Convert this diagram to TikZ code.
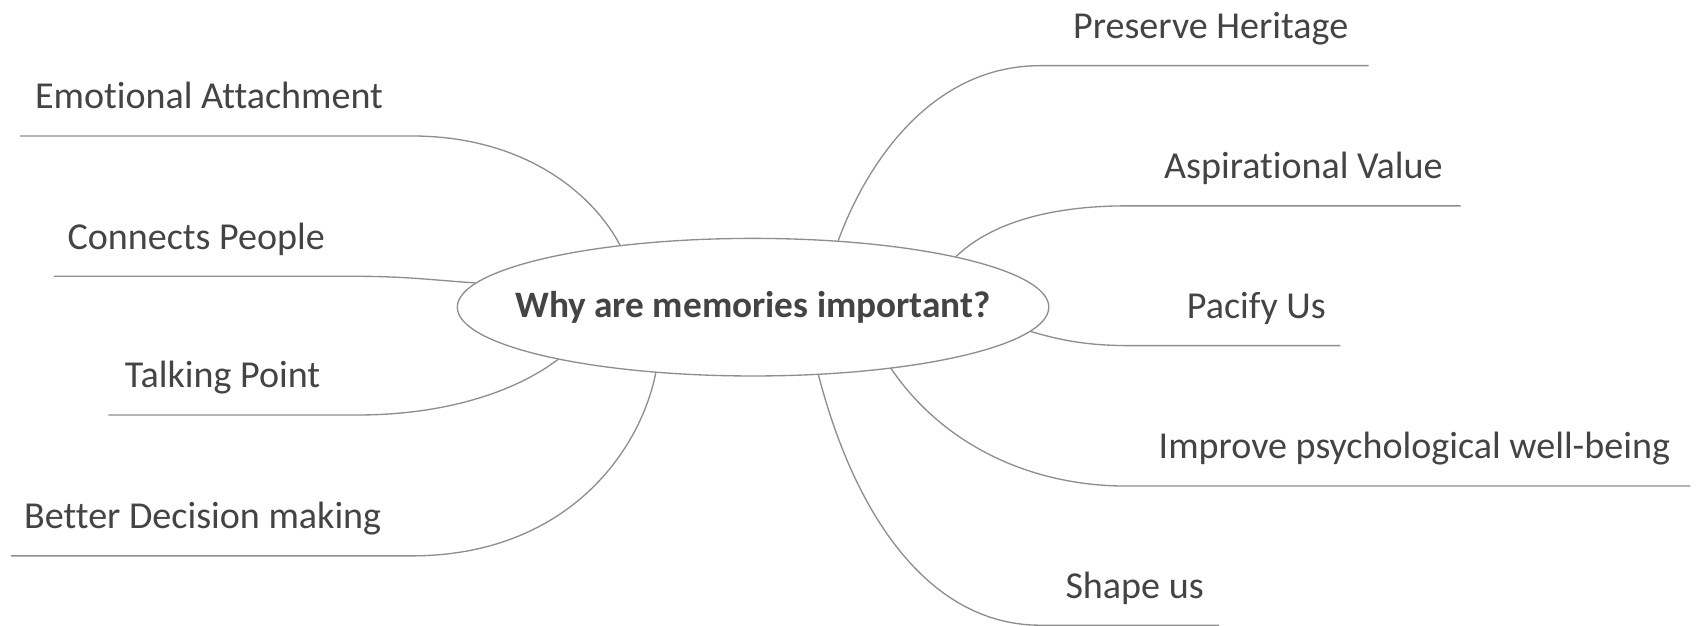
\documentclass[tikz,border=0pt]{standalone}
\usepackage{fontspec}
\setmainfont{Carlito}[Ligatures=NoCommon]
\usetikzlibrary{shapes.geometric}
\definecolor{txt}{HTML}{444444}
\definecolor{ln}{HTML}{8E8E8E}
\begin{document}
\begin{tikzpicture}[x=0.02cm,y=-0.02cm,
  lbl/.style={anchor=base west,inner sep=0,text=txt,font=\fontsize{20}{21}\selectfont},
  conn/.style={draw=ln,line width=0.7pt},
  hub/.style={ellipse,draw=ln,line width=0.7pt,minimum width=10.92cm,minimum height=2.54cm,inner sep=0,text=txt,font=\bfseries\fontsize{19.6}{20}\selectfont}]
\useasboundingbox (0,0) rectangle (1568,577);
\node[hub] (c) at (695,283.5) {\makebox[0pt]{Why are memories important?}};

% left side
\node[lbl] (ea) at (32,100.5) {Emotional Attachment};
\coordinate (ea1) at (380,125.5);
\coordinate (ea0) at (18.5,125.5);
\draw[conn] (c.155) .. controls (545,175) and (480,125.5) .. (ea1) -- (ea0);

\node[lbl] (cp) at (62,230) {Connects People};
\coordinate (cp1) at (330,255);
\coordinate (cp0) at (50,255);
\draw[conn] (c.175.5) .. controls (405,259) and (375,255) .. (cp1) -- (cp0);

\node[lbl] (tp) at (115,358) {Talking Point};
\coordinate (tp1) at (330,383);
\coordinate (tp0) at (100,383);
\draw[conn] (c.195) .. controls (475,362) and (410,383) .. (tp1) -- (tp0);

\node[lbl] (bd) at (22,488) {Better Decision making};
\coordinate (bd1) at (380,513);
\coordinate (bd0) at (10,513);
\draw[conn] (c.214) .. controls (590,420) and (520,513) .. (bd1) -- (bd0);

% right side
\node[lbl] (ph) at (990,35.6) {Preserve Heritage};
\coordinate (ph1) at (960,60.6);
\coordinate (ph2) at (1263,60.6);
\draw[conn] (c.38.7) .. controls (800,150) and (860,60.6) .. (ph1) -- (ph2);

\node[lbl] (av) at (1074,165) {Aspirational Value};
\coordinate (av1) at (1040,190);
\coordinate (av2) at (1348,190);
\draw[conn] (c.14.2) .. controls (910,210) and (960,190) .. (av1) -- (av2);

\node[lbl] (pu) at (1095,294) {Pacify Us};
\coordinate (pu1) at (1045,319);
\coordinate (pu2) at (1237,319);
\draw[conn] (c.-5.6) .. controls (985,316) and (1010,319) .. (pu1) -- (pu2);

\node[lbl] (ip) at (1069,423.6) {Improve psychological well-being};
\coordinate (ip1) at (1040,448.6);
\coordinate (ip2) at (1560,448.6);
\draw[conn] (c.-24.6) .. controls (870,410) and (950,448.6) .. (ip1) -- (ip2);

\node[lbl] (su) at (983,552) {Shape us};
\coordinate (su1) at (960,577);
\coordinate (su2) at (1125,577);
\draw[conn] (c.-46.6) .. controls (790,480) and (860,577) .. (su1) -- (su2);
\end{tikzpicture}
\end{document}
